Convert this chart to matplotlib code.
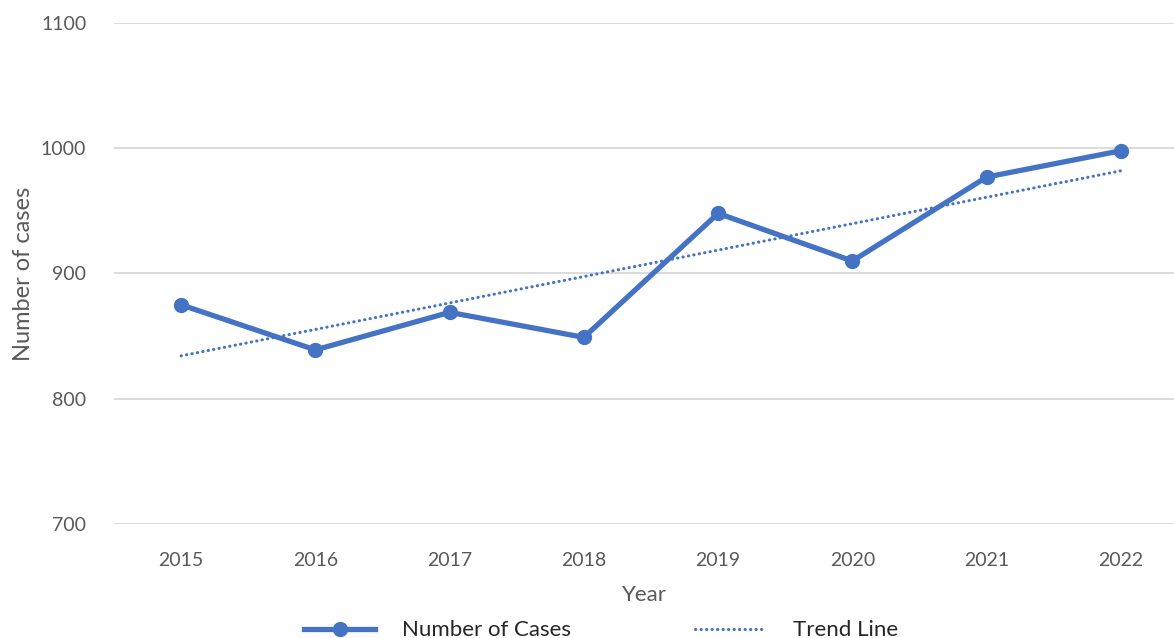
import numpy as np
import matplotlib.pyplot as plt
from matplotlib.lines import Line2D

years = ['2015', '2016', '2017', '2018', '2019', '2020', '2021', '2022']
cases = [875, 839, 869, 849, 948, 910, 977, 998]

blue = '#4472C4'
grey = '#595959'

plt.rcParams['font.family'] = ['Lato', 'DejaVu Sans']

x = np.arange(len(years))
slope, intercept = np.polyfit(x, cases, 1)
trend = slope * x + intercept

fig = plt.figure(figsize=(11.74, 6.38), dpi=100)
ax = fig.add_axes([114 / 1174, 1 - 524 / 638, 1 - 114 / 1174, (524 - 23) / 638])

ax.plot(x, cases, color=blue, linewidth=3.8, marker='o', markersize=10,
        solid_joinstyle='round', zorder=3)
ax.plot(x, trend, color=blue, linewidth=2.2, linestyle=(0, (0.1, 1.7)),
        dash_capstyle='round', zorder=2)

ax.set_xlim(-0.5, 7.396)
ax.set_ylim(700, 1100)
ax.set_yticks([700, 800, 900, 1000, 1100])
ax.set_xticks(x)
ax.set_xticklabels(years)
ax.grid(axis='y', color='#D9D9D9', linewidth=1.3)
ax.set_axisbelow(True)
for s in ax.spines.values():
    s.set_visible(False)
ax.tick_params(length=0, labelsize=14, labelcolor=grey, pad=20)
ax.tick_params(axis='y', pad=20)

ax.set_xlabel('Year', fontsize=16, color=grey, labelpad=12)
ax.set_ylabel('Number of cases', fontsize=17, color=grey, labelpad=5)

handles = [
    Line2D([], [], color=blue, linewidth=3.8, marker='o', markersize=10),
    Line2D([], [], color=blue, linewidth=2.2, linestyle=(0, (0.1, 1.7)),
           dash_capstyle='round'),
]
fig.legend(handles, ['Number of Cases', 'Trend Line'], loc='lower center',
           bbox_to_anchor=(0.512, -0.035), ncol=2, frameon=False,
           fontsize=16, labelcolor='#262626', handlelength=3.2, columnspacing=5.6,
           handletextpad=1.2)

fig.savefig('out.png', dpi=100)
